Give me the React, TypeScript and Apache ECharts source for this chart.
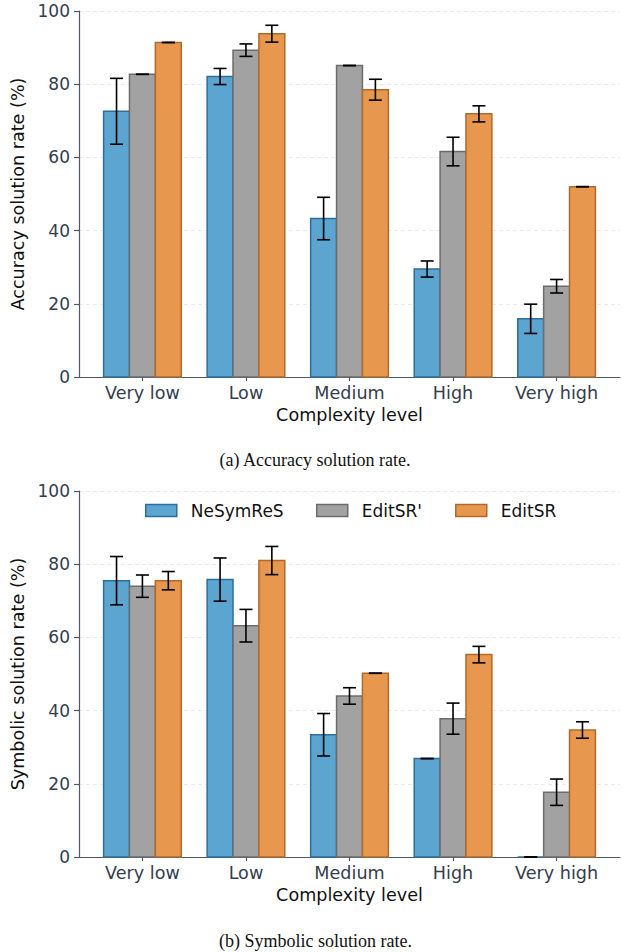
import React, { useEffect, useRef } from "react";
import * as echarts from "echarts";

// Complexity levels on the x axis
const categories = ["Very low", "Low", "Medium", "High", "Very high"];
const methods = ["NeSymReS", "EditSR'", "EditSR"];
const yTicks = [0, 20, 40, 60, 80, 100];

// (a) Accuracy solution rate (%), mean and error
const accNeSymReS = [72.6, 82.1, 43.3, 29.5, 15.9];
const accNeSymReSErr = [9.0, 2.2, 5.8, 2.2, 4.0];
const accEditSRPrime = [82.7, 89.3, 85.1, 61.6, 24.8];
const accEditSRPrimeErr = [0, 1.7, 0, 3.9, 1.85];
const accEditSR = [91.4, 93.8, 78.5, 71.9, 52.0];
const accEditSRErr = [0, 2.3, 2.85, 2.2, 0];

// (b) Symbolic solution rate (%), mean and error
const symNeSymReS = [75.5, 75.8, 33.4, 26.9, 0];
const symNeSymReSErr = [6.6, 5.9, 5.8, 0, 0];
const symEditSRPrime = [74.0, 63.2, 44.0, 37.8, 17.7];
const symEditSRPrimeErr = [3.05, 4.45, 2.25, 4.25, 3.6];
const symEditSR = [75.5, 81.0, 50.2, 55.3, 34.7];
const symEditSRErr = [2.5, 3.85, 0, 2.25, 2.25];

const fills = ["#5DA5D1", "#A2A2A2", "#E8984E"];
const edges = ["#2E6E9C", "#6C6C6C", "#B0692D"];

const FONT = "DejaVu Sans";
const BAR_W = 0.25;

function buildSeries(
  gridIndex: number,
  values: number[][],
  errors: number[][]
): any[] {
  return methods.map((name, m) => ({
    type: "custom",
    name,
    xAxisIndex: gridIndex,
    yAxisIndex: gridIndex,
    itemStyle: { color: fills[m], borderColor: edges[m], borderWidth: 1.5 },
    data: categories.map((_, c) => [c, values[m][c], errors[m][c]]),
    encode: { x: 0, y: 1 },
    renderItem: (params: any, api: any) => {
      const c = api.value(0);
      const v = api.value(1);
      const e = api.value(2);
      const center = c + (m - 1) * BAR_W;
      const topLeft = api.coord([center - BAR_W / 2, v]);
      const bottomRight = api.coord([center + BAR_W / 2, 0]);
      const mid = api.coord([center, v]);
      const hi = api.coord([center, v + e]);
      const lo = api.coord([center, v - e]);
      const cap = 6.5;
      const errStyle = { stroke: "#000", lineWidth: 1.6 };
      return {
        type: "group",
        children: [
          {
            type: "rect",
            shape: {
              x: topLeft[0],
              y: topLeft[1],
              width: bottomRight[0] - topLeft[0],
              height: bottomRight[1] - topLeft[1],
            },
            style: { fill: fills[m], stroke: edges[m], lineWidth: 1.5 },
          },
          {
            type: "line",
            shape: { x1: mid[0], y1: hi[1], x2: mid[0], y2: lo[1] },
            style: errStyle,
          },
          {
            type: "line",
            shape: { x1: mid[0] - cap, y1: hi[1], x2: mid[0] + cap, y2: hi[1] },
            style: errStyle,
          },
          {
            type: "line",
            shape: { x1: mid[0] - cap, y1: lo[1], x2: mid[0] + cap, y2: lo[1] },
            style: errStyle,
          },
        ],
      };
    },
  }));
}

function xAxis(gridIndex: number): any {
  return {
    type: "value",
    gridIndex,
    min: -0.6125,
    max: 4.6125,
    name: "Complexity level",
    nameLocation: "middle",
    nameGap: 29,
    nameTextStyle: { fontFamily: FONT, fontSize: 17.6, color: "#111" },
    splitLine: { show: false },
    axisLine: { show: true, onZero: false, lineStyle: { color: "#4F5868", width: 1.2 } },
    axisTick: {
      show: true,
      length: 4,
      lineStyle: { color: "#4F5868", width: 1.2 },
      customValues: categories.map((_, i) => i),
    },
    axisLabel: {
      customValues: categories.map((_, i) => i),
      formatter: (v: number) => categories[Math.round(v)] ?? "",
      fontFamily: FONT,
      fontSize: 17.6,
      color: "#333D4E",
      margin: 7,
    },
  };
}

function yAxis(gridIndex: number, name: string): any {
  return {
    type: "value",
    gridIndex,
    min: 0,
    max: 100,
    interval: 20,
    name,
    nameLocation: "middle",
    nameGap: 48,
    nameTextStyle: { fontFamily: FONT, fontSize: 17.6, color: "#111" },
    axisLine: { show: true, onZero: false, lineStyle: { color: "#4F5868", width: 1.2 } },
    axisTick: { show: true, length: 5, lineStyle: { color: "#4F5868", width: 1.2 } },
    axisLabel: {
      formatter: (v: number) => (yTicks.includes(v) ? String(v) : ""),
      fontFamily: FONT,
      fontSize: 17,
      color: "#333D4E",
      margin: 9,
    },
    splitLine: {
      show: true,
      lineStyle: { color: "#E4E4E4", type: [4, 3], width: 0.8 },
    },
  };
}

function legendAt(name: string, m: number, left: number): any {
  return {
    show: true,
    left,
    top: 502,
    padding: 0,
    itemWidth: 31,
    itemHeight: 12,
    itemGap: 0,
    selectedMode: false,
    textStyle: { fontFamily: FONT, fontSize: 17, color: "#111", padding: [0, 0, 0, 9] },
    data: [
      {
        name,
        icon: "rect",
        itemStyle: { color: fills[m], borderColor: edges[m], borderWidth: 1.5 },
      },
    ],
  };
}

export default function App() {
  const ref = useRef<HTMLDivElement>(null);

  useEffect(() => {
    if (!ref.current) return;
    const chart = echarts.init(ref.current, undefined, { renderer: "svg" });
    chart.setOption({
      animation: false,
      backgroundColor: "#ffffff",
      grid: [
        { left: 79, top: 11, width: 541, height: 366 },
        { left: 79, top: 491, width: 541, height: 366 },
      ],
      xAxis: [xAxis(0), xAxis(1)],
      yAxis: [
        yAxis(0, "Accuracy solution rate (%)"),
        yAxis(1, "Symbolic solution rate (%)"),
      ],
      legend: [
        legendAt(methods[0], 0, 145),
        legendAt(methods[1], 1, 316),
        legendAt(methods[2], 2, 455),
      ],
      series: [
        ...buildSeries(
          0,
          [accNeSymReS, accEditSRPrime, accEditSR],
          [accNeSymReSErr, accEditSRPrimeErr, accEditSRErr]
        ),
        ...buildSeries(
          1,
          [symNeSymReS, symEditSRPrime, symEditSR],
          [symNeSymReSErr, symEditSRPrimeErr, symEditSRErr]
        ),
      ],
      graphic: [
        {
          type: "text",
          left: "center",
          top: 451,
          style: {
            text: "(a) Accuracy solution rate.",
            font: '18px "Liberation Serif"',
            fill: "#111",
          },
        },
        {
          type: "text",
          left: "center",
          top: 932,
          style: {
            text: "(b) Symbolic solution rate.",
            font: '18px "Liberation Serif"',
            fill: "#111",
          },
        },
      ],
    });
    return () => chart.dispose();
  }, []);

  return (
    <div
      ref={ref}
      style={{ position: "fixed", left: 0, top: 0, width: 631, height: 952 }}
    />
  );
}
